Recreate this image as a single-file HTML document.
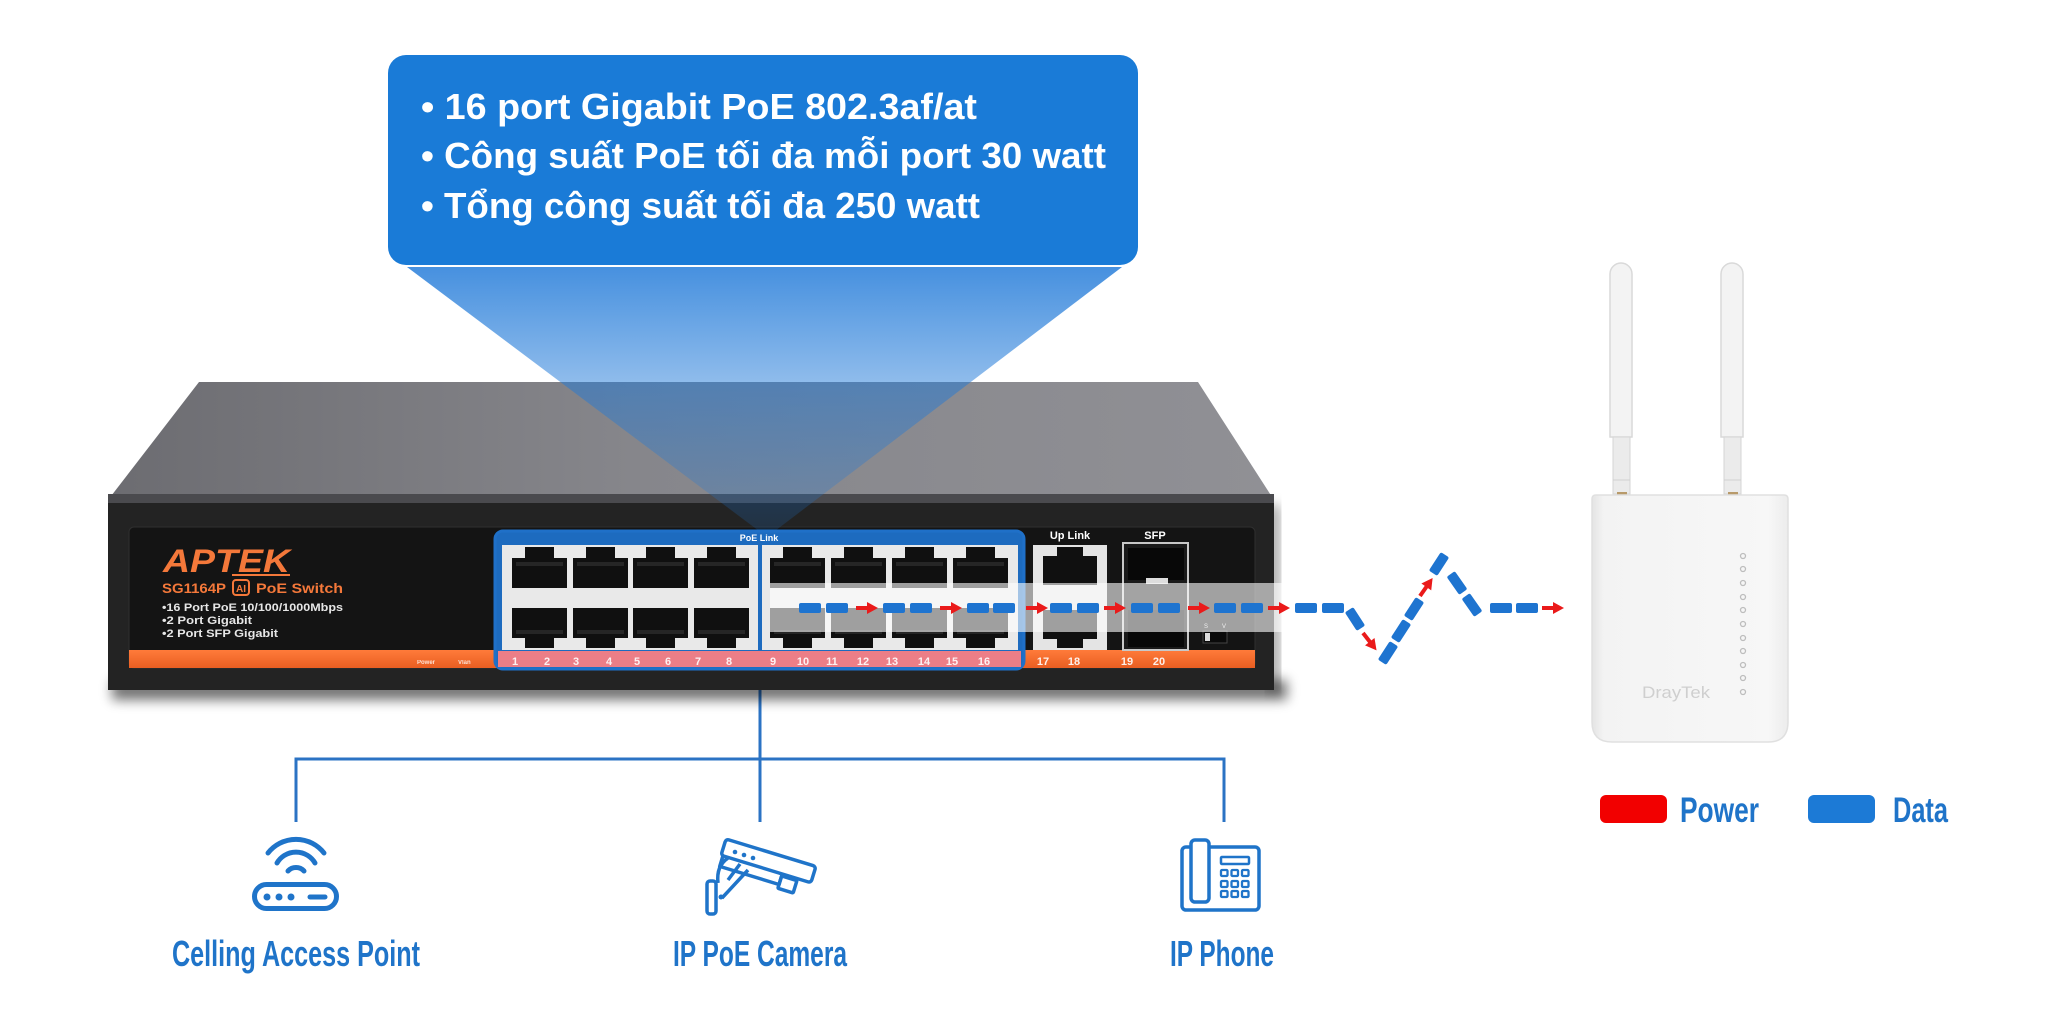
<!DOCTYPE html>
<html><head><meta charset="utf-8"><style>
html,body{margin:0;padding:0;background:#fff;}
svg{display:block;}
text{font-family:"Liberation Sans",Arial,sans-serif;}
</style></head><body>
<svg width="2047" height="1013" viewBox="0 0 2047 1013" xmlns="http://www.w3.org/2000/svg" xmlns:xlink="http://www.w3.org/1999/xlink">
<defs>
 <linearGradient id="beam" gradientUnits="userSpaceOnUse" x1="0" y1="267" x2="0" y2="540">
  <stop offset="0" stop-color="#1e78d8" stop-opacity="0.82"/>
  <stop offset="0.42" stop-color="#1e78d8" stop-opacity="0.5"/>
  <stop offset="1" stop-color="#1e78d8" stop-opacity="0.15"/>
 </linearGradient>
 <linearGradient id="topg" x1="0" y1="0" x2="1" y2="0">
  <stop offset="0" stop-color="#6c6c71"/>
  <stop offset="0.45" stop-color="#86868b"/>
  <stop offset="1" stop-color="#909095"/>
 </linearGradient>
 <linearGradient id="orange" x1="0" y1="0" x2="0" y2="1">
  <stop offset="0" stop-color="#ff7b3a"/><stop offset="1" stop-color="#e95e22"/>
 </linearGradient>
 <linearGradient id="apg" x1="0" y1="0" x2="1" y2="0">
  <stop offset="0" stop-color="#e4e4e4"/><stop offset="0.06" stop-color="#f3f3f3"/>
  <stop offset="0.9" stop-color="#f7f7f7"/><stop offset="1" stop-color="#ececec"/>
 </linearGradient>
 <filter id="blur6" x="-10%" y="-200%" width="120%" height="500%"><feGaussianBlur stdDeviation="6"/></filter>
 <g id="arr"><rect x="0" y="-2" width="13" height="4" fill="#ea1a1a"/><path d="M11,-6 L22,0 L11,6 Z" fill="#ea1a1a"/></g>
 <rect id="dsh" x="0" y="-5" width="22" height="10" rx="2" fill="#1e74d0"/>
 <g id="pt"><rect x="0" y="11" width="55" height="30" fill="#101010"/><rect x="13" y="0" width="29" height="12" fill="#101010"/><rect x="4" y="15" width="47" height="4" fill="#262626"/></g>
 <g id="pb"><rect x="0" y="0" width="55" height="30" fill="#101010"/><rect x="13" y="29" width="29" height="11" fill="#101010"/><rect x="4" y="22" width="47" height="4" fill="#262626"/></g>
</defs>

<!-- callout box -->
<rect x="388" y="55" width="750" height="210" rx="18" fill="#1a7bd7"/>
<text x="421" y="119" font-size="36" font-weight="bold" fill="#fff" textLength="556" lengthAdjust="spacingAndGlyphs">• 16 port Gigabit PoE 802.3af/at</text>
<text x="421" y="168" font-size="36" font-weight="bold" fill="#fff" textLength="685" lengthAdjust="spacingAndGlyphs">• Công suất PoE tối đa mỗi port 30 watt</text>
<text x="421" y="218" font-size="36" font-weight="bold" fill="#fff" textLength="559" lengthAdjust="spacingAndGlyphs">• Tổng công suất tối đa 250 watt</text>

<!-- connectors (behind switch) -->
<g stroke="#2b73c4" stroke-width="3" fill="none">
 <line x1="760" y1="672" x2="760" y2="822"/>
 <polyline points="296,822 296,759 1224,759 1224,822"/>
</g>

<!-- switch shadow -->
<rect x="112" y="680" width="1175" height="20" fill="#000" opacity="0.55" filter="url(#blur6)"/>
<rect x="1266" y="505" width="14" height="185" fill="#000" opacity="0.35" filter="url(#blur6)"/>

<!-- switch top -->
<polygon points="199,382 1198,382 1274,500 108,500" fill="url(#topg)"/>
<rect x="108" y="494" width="1166" height="10" fill="#4a4a4e"/>
<!-- front -->
<rect x="108" y="503" width="1166" height="187" fill="#232323"/>
<rect x="129" y="527" width="1126" height="141" rx="5" fill="#141414" stroke="#2f2f2f" stroke-width="1"/>
<rect x="129" y="650" width="1126" height="18" fill="url(#orange)"/>

<!-- beam -->
<polygon points="407,267 1122,267 767,537" fill="url(#beam)"/>

<!-- left panel text -->
<text x="163" y="572" font-size="32" font-weight="bold" font-style="italic" fill="#f4783a" textLength="127" lengthAdjust="spacingAndGlyphs">APTEK</text>
<line x1="232" y1="575" x2="290" y2="575" stroke="#f4783a" stroke-width="2"/>
<text x="162" y="593" font-size="14" font-weight="bold" fill="#f4783a" textLength="64" lengthAdjust="spacingAndGlyphs">SG1164P</text>
<rect x="233" y="580" width="16" height="15" rx="3" fill="none" stroke="#f4783a" stroke-width="2"/>
<text x="236" y="592" font-size="10" font-weight="bold" fill="#f4783a">AI</text>
<text x="256" y="593" font-size="14" font-weight="bold" fill="#f4783a" textLength="87" lengthAdjust="spacingAndGlyphs">PoE Switch</text>
<text x="162" y="611" font-size="11" font-weight="bold" fill="#e6e6e6" textLength="181" lengthAdjust="spacingAndGlyphs">•16 Port PoE 10/100/1000Mbps</text>
<text x="162" y="624" font-size="11" font-weight="bold" fill="#e6e6e6" textLength="90" lengthAdjust="spacingAndGlyphs">•2 Port Gigabit</text>
<text x="162" y="637" font-size="11" font-weight="bold" fill="#e6e6e6" textLength="116" lengthAdjust="spacingAndGlyphs">•2 Port SFP Gigabit</text>
<text x="417" y="664" font-size="6" font-weight="bold" fill="#fff" opacity="0.8">Power</text>
<text x="458" y="664" font-size="6" font-weight="bold" fill="#fff" opacity="0.8">Vlan</text>

<!-- PoE blue box -->
<rect x="495" y="531" width="529" height="138" rx="8" fill="#1d6bbf" stroke="#1f70c8" stroke-width="3"/>
<rect x="498" y="651" width="523" height="16" fill="#ec7e87"/>
<text x="759" y="541" font-size="9" font-weight="bold" fill="#fff" text-anchor="middle">PoE Link</text>
<rect x="502" y="545" width="256" height="105" fill="#e9e9e9"/>
<rect x="762" y="545" width="256" height="105" fill="#e9e9e9"/>
<g>
 <use xlink:href="#pt" x="512" y="547"/><use xlink:href="#pt" x="573" y="547"/><use xlink:href="#pt" x="633" y="547"/><use xlink:href="#pt" x="694" y="547"/>
 <use xlink:href="#pt" x="770" y="547"/><use xlink:href="#pt" x="831" y="547"/><use xlink:href="#pt" x="892" y="547"/><use xlink:href="#pt" x="953" y="547"/>
 <use xlink:href="#pb" x="512" y="608"/><use xlink:href="#pb" x="573" y="608"/><use xlink:href="#pb" x="633" y="608"/><use xlink:href="#pb" x="694" y="608"/>
 <use xlink:href="#pb" x="770" y="608"/><use xlink:href="#pb" x="831" y="608"/><use xlink:href="#pb" x="892" y="608"/><use xlink:href="#pb" x="953" y="608"/>
</g>
<g font-size="11" font-weight="bold" fill="#fff" text-anchor="middle" opacity="0.9">
 <text x="515" y="665">1</text><text x="547" y="665">2</text><text x="576" y="665">3</text><text x="609" y="665">4</text>
 <text x="637" y="665">5</text><text x="668" y="665">6</text><text x="698" y="665">7</text><text x="729" y="665">8</text>
 <text x="773" y="665">9</text><text x="803" y="665">10</text><text x="832" y="665">11</text><text x="863" y="665">12</text>
 <text x="892" y="665">13</text><text x="924" y="665">14</text><text x="952" y="665">15</text><text x="984" y="665">16</text>
 <text x="1043" y="665">17</text><text x="1074" y="665">18</text><text x="1127" y="665">19</text><text x="1159" y="665">20</text>
</g>

<!-- uplink -->
<text x="1070" y="539" font-size="11" font-weight="bold" fill="#fff" text-anchor="middle">Up  Link</text>
<rect x="1033" y="545" width="74" height="105" fill="#e4e4e4"/>
<g transform="translate(1043,547)"><rect x="0" y="9" width="54" height="29" fill="#101010"/><rect x="14" y="0" width="26" height="10" fill="#101010"/></g>
<g transform="translate(1043,610)"><rect x="0" y="0" width="54" height="29" fill="#101010"/><rect x="14" y="28" width="26" height="10" fill="#101010"/></g>
<!-- SFP -->
<text x="1155" y="539" font-size="11" font-weight="bold" fill="#fff" text-anchor="middle">SFP</text>
<rect x="1123" y="543" width="65" height="107" fill="#1a1a1a" stroke="#c8c8c8" stroke-width="2"/>
<rect x="1128" y="548" width="56" height="32" fill="#080808"/>
<rect x="1146" y="578" width="22" height="6" fill="#ddd"/>
<rect x="1128" y="610" width="56" height="37" fill="#080808"/>
<!-- S/V -->
<text x="1204" y="628" font-size="6" fill="#ddd">S</text><text x="1222" y="628" font-size="6" fill="#ddd">V</text>
<rect x="1203" y="631" width="24" height="12" fill="#0a0a0a" stroke="#444" stroke-width="1"/>
<rect x="1205" y="633" width="5" height="8" fill="#ddd"/>

<!-- translucent band -->
<rect x="770" y="583" width="520" height="49" fill="#ffffff" opacity="0.6"/>

<!-- data / power line -->
<g>
 <use xlink:href="#dsh" x="799" y="608"/><use xlink:href="#dsh" x="826" y="608"/><use xlink:href="#arr" x="856" y="608"/>
 <use xlink:href="#dsh" x="883" y="608"/><use xlink:href="#dsh" x="910" y="608"/><use xlink:href="#arr" x="940" y="608"/>
 <use xlink:href="#dsh" x="967" y="608"/><use xlink:href="#dsh" x="993" y="608"/><use xlink:href="#arr" x="1026" y="608"/>
 <use xlink:href="#dsh" x="1050" y="608"/><use xlink:href="#dsh" x="1077" y="608"/><use xlink:href="#arr" x="1104" y="608"/>
 <use xlink:href="#dsh" x="1131" y="608"/><use xlink:href="#dsh" x="1158" y="608"/><use xlink:href="#arr" x="1188" y="608"/>
 <use xlink:href="#dsh" x="1214" y="608"/><use xlink:href="#dsh" x="1241" y="608"/><use xlink:href="#arr" x="1268" y="608"/>
 <use xlink:href="#dsh" x="1295" y="608"/><use xlink:href="#dsh" x="1322" y="608"/>
 <use xlink:href="#dsh" transform="translate(1355,619) rotate(57) translate(-11,0)"/>
 <use xlink:href="#arr" transform="translate(1363,633) rotate(52)"/>
 <use xlink:href="#dsh" transform="translate(1388,653) rotate(-57) translate(-11,0)"/>
 <use xlink:href="#dsh" transform="translate(1401,631) rotate(-57) translate(-11,0)"/>
 <use xlink:href="#dsh" transform="translate(1414,609) rotate(-57) translate(-11,0)"/>
 <use xlink:href="#arr" transform="translate(1420,596) rotate(-55)"/>
 <use xlink:href="#dsh" transform="translate(1439,564) rotate(-57) translate(-11,0)"/>
 <use xlink:href="#dsh" transform="translate(1457,583) rotate(55) translate(-11,0)"/>
 <use xlink:href="#dsh" transform="translate(1472,605) rotate(55) translate(-11,0)"/>
 <use xlink:href="#dsh" x="1490" y="608"/><use xlink:href="#dsh" x="1516" y="608"/><use xlink:href="#arr" x="1542" y="608"/>
</g>

<!-- access point -->
<path d="M1610,437 L1610,274 A11,11 0 0 1 1632,274 L1632,437 Z" fill="#f3f3f3" stroke="#d9d9d9" stroke-width="1.5"/>
<rect x="1613" y="437" width="17" height="57" fill="#ebebeb" stroke="#d6d6d6" stroke-width="1"/>
<line x1="1613" y1="480" x2="1630" y2="480" stroke="#d0d0d0"/>
<path d="M1721,437 L1721,274 A11,11 0 0 1 1743,274 L1743,437 Z" fill="#f3f3f3" stroke="#d9d9d9" stroke-width="1.5"/>
<rect x="1724" y="437" width="17" height="57" fill="#ebebeb" stroke="#d6d6d6" stroke-width="1"/>
<line x1="1724" y1="480" x2="1741" y2="480" stroke="#d0d0d0"/>
<rect x="1617" y="492" width="10" height="4" fill="#b89a6a"/><rect x="1728" y="492" width="10" height="4" fill="#b89a6a"/>
<path d="M1592,499 Q1592,495 1596,495 L1784,495 Q1788,495 1788,499 L1788,722 Q1788,742 1768,742 L1612,742 Q1592,742 1592,722 Z" fill="url(#apg)" stroke="#e0e0e0" stroke-width="1.5"/>
<g fill="none" stroke="#bdbdbd" stroke-width="1.3">
 <circle cx="1743" cy="556" r="2.5"/><circle cx="1743" cy="569" r="2.5"/><circle cx="1743" cy="583" r="2.5"/><circle cx="1743" cy="597" r="2.5"/>
 <circle cx="1743" cy="610" r="2.5"/><circle cx="1743" cy="624" r="2.5"/><circle cx="1743" cy="638" r="2.5"/><circle cx="1743" cy="651" r="2.5"/>
 <circle cx="1743" cy="665" r="2.5"/><circle cx="1743" cy="678" r="2.5"/><circle cx="1743" cy="692" r="2.5"/>
</g>
<text x="1642" y="698" font-size="17" fill="#cfcfcf" textLength="68" lengthAdjust="spacingAndGlyphs">DrayTek</text>

<!-- legend -->
<rect x="1600" y="795" width="67" height="28" rx="6" fill="#f20000"/>
<text x="1680" y="822" font-size="35" font-weight="bold" fill="#1f74c9" textLength="79" lengthAdjust="spacingAndGlyphs">Power</text>
<rect x="1808" y="795" width="67" height="28" rx="6" fill="#1c7ad6"/>
<text x="1893" y="822" font-size="35" font-weight="bold" fill="#1f74c9" textLength="55" lengthAdjust="spacingAndGlyphs">Data</text>

<!-- wifi router icon -->
<g stroke="#1f74c9" stroke-width="5" fill="none" stroke-linecap="round">
 <path d="M268,853 A35.5,35.5 0 0 1 324,853"/>
 <path d="M277,863 A22,22 0 0 1 315,863"/>
 <path d="M288,871 A11,11 0 0 1 304,871"/>
 <rect x="254.5" y="884.5" width="82" height="24" rx="12"/>
 <line x1="310" y1="897" x2="325" y2="897"/>
</g>
<g fill="#1f74c9"><circle cx="267" cy="897" r="3.5"/><circle cx="279" cy="897" r="3.5"/><circle cx="291" cy="897" r="3.5"/></g>

<!-- camera icon -->
<g stroke="#1f74c9" stroke-width="3.5" fill="none" stroke-linejoin="round">
 <g transform="translate(726,839) rotate(17)">
  <rect x="0" y="0" width="94" height="17" rx="3"/>
  <path d="M2,17 L2,28 L64,28 L64,17"/>
  <rect x="64" y="19" width="16" height="13" rx="1"/>
 </g>
 <path d="M718,883 Q716,866 728,858"/>
 <path d="M728,880 L740,864 M722,898 L748,870"/>
 <rect x="707" y="881" width="9" height="33" rx="3"/>
</g>
<g fill="#1f74c9"><circle cx="735" cy="852" r="2.3"/><circle cx="744" cy="855" r="2.3"/><circle cx="753" cy="858" r="2.3"/><circle cx="721" cy="897" r="2.5"/></g>

<!-- phone icon -->
<g stroke="#1f74c9" stroke-width="3.5" fill="none">
 <rect x="1182" y="847" width="77" height="63" rx="4"/>
 <rect x="1191" y="840" width="18" height="62" rx="4" fill="#fff"/>
 <rect x="1221" y="857" width="28" height="7" rx="1" stroke-width="2.5"/>
 <g stroke-width="2.3">
  <rect x="1221" y="870" width="6.5" height="6" rx="1"/><rect x="1231.5" y="870" width="6.5" height="6" rx="1"/><rect x="1242" y="870" width="6.5" height="6" rx="1"/>
  <rect x="1221" y="881" width="6.5" height="6" rx="1"/><rect x="1231.5" y="881" width="6.5" height="6" rx="1"/><rect x="1242" y="881" width="6.5" height="6" rx="1"/>
  <rect x="1221" y="891" width="6.5" height="6" rx="1"/><rect x="1231.5" y="891" width="6.5" height="6" rx="1"/><rect x="1242" y="891" width="6.5" height="6" rx="1"/>
 </g>
</g>

<!-- labels -->
<text x="172" y="966" font-size="36" font-weight="bold" fill="#1f74c9" textLength="248" lengthAdjust="spacingAndGlyphs">Celling Access Point</text>
<text x="673" y="966" font-size="36" font-weight="bold" fill="#1f74c9" textLength="174" lengthAdjust="spacingAndGlyphs">IP PoE Camera</text>
<text x="1170" y="966" font-size="36" font-weight="bold" fill="#1f74c9" textLength="104" lengthAdjust="spacingAndGlyphs">IP Phone</text>
</svg>
</body></html>
